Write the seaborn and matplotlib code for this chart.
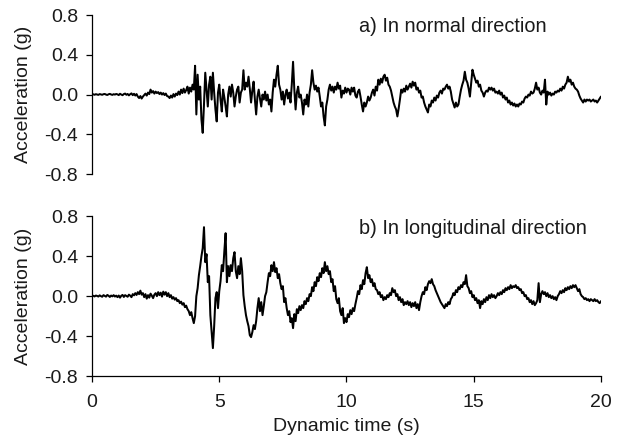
import numpy as np
import pandas as pd
import matplotlib
matplotlib.use("Agg")
import matplotlib.pyplot as plt
import seaborn as sns

DT = 0.05  # sampling step of the record (s)

# a) acceleration in normal direction (g), one value every 0.05 s from 0 to 20 s
normal = [
    0.000, 0.003, -0.002, 0.004, 0.000, -0.003, 0.005, 0.001, -0.002, 0.004, 0.006, 0.000, -0.004, 0.003, 0.007, 0.001, -0.003, 0.004, 0.000, 0.006,
    0.002, -0.005, 0.008, 0.000, -0.006, 0.005, 0.010, -0.002, 0.006, -0.008, 0.004, 0.012, -0.006, 0.008, -0.010, 0.005, -0.020, -0.035, -0.015, -0.040,
    -0.020, -0.005, 0.010, -0.010, 0.020, 0.005, 0.050, 0.020, 0.035, 0.010, 0.030, 0.015, 0.025, 0.005, 0.020, 0.000, 0.015, -0.005, 0.010, -0.015,
    -0.020, -0.035, -0.010, -0.030, 0.005, -0.020, 0.010, -0.005, 0.030, 0.000, 0.050, 0.015, 0.060, 0.020, 0.045, 0.080, 0.010, 0.070, 0.030, 0.100,
    0.05, 0.29, -0.20, 0.20, -0.05, 0.08, -0.25, -0.385, -0.10, 0.22, 0.05, -0.12, 0.10, 0.18, -0.05, 0.22, 0.02, -0.15, -0.27, 0.02,
    0.10, -0.05, -0.17, 0.05, -0.03, -0.12, -0.22, 0.00, 0.08, -0.02, 0.10, 0.02, -0.12, -0.02, 0.05, 0.08, -0.08, 0.02, 0.05, 0.245,
    0.05, 0.12, 0.08, 0.18, 0.06, -0.08, 0.04, 0.13, -0.05, -0.20, -0.02, 0.05, -0.04, -0.12, 0.00, -0.05, 0.03, -0.06, 0.00, -0.10,
    -0.05, -0.17, 0.02, 0.15, 0.08, 0.20, 0.29, 0.10, 0.05, -0.05, 0.03, -0.10, 0.00, 0.05, -0.04, 0.02, -0.08, 0.10, 0.33, 0.05,
    -0.15, 0.02, 0.08, -0.03, 0.00, -0.08, -0.20, -0.05, -0.10, 0.00, -0.12, 0.02, 0.10, 0.245, 0.12, 0.05, 0.09, 0.03, 0.07, -0.02,
    -0.12, -0.08, -0.22, -0.31, -0.12, -0.05, 0.05, 0.10, 0.04, 0.08, 0.02, 0.08, 0.05, 0.12, 0.06, 0.09, -0.03, 0.04, 0.01, 0.07,
    0.02, 0.06, 0.05, 0.00, 0.07, 0.03, 0.07, -0.01, -0.03, 0.03, 0.05, -0.02, -0.10, -0.17, -0.08, -0.12, -0.08, -0.02, -0.06, -0.03,
    0.02, 0.05, -0.01, 0.08, 0.04, 0.15, 0.10, 0.16, 0.12, 0.18, 0.20, 0.14, 0.17, 0.10, 0.08, 0.04, -0.02, -0.08, -0.12, -0.15,
    -0.22, -0.14, -0.05, 0.05, 0.02, 0.06, 0.03, 0.09, 0.05, 0.08, 0.11, 0.07, 0.13, 0.09, 0.12, 0.05, 0.07, 0.02, 0.04, -0.03,
    -0.02, -0.08, -0.12, -0.15, -0.18, -0.10, -0.12, -0.06, -0.08, -0.03, -0.06, -0.01, -0.03, 0.02, 0.04, 0.01, 0.06, 0.05, 0.08, 0.10,
    0.06, 0.08, 0.03, -0.05, -0.09, -0.13, -0.08, -0.12, -0.10, -0.02, 0.05, 0.10, 0.14, 0.23, 0.15, 0.12, 0.06, -0.02, 0.12, 0.25,
    0.20, 0.16, 0.12, 0.14, 0.08, 0.10, 0.04, 0.02, -0.02, 0.02, 0.04, 0.03, 0.07, 0.05, 0.07, 0.04, 0.06, 0.02, 0.03, 0.01,
    0.04, 0.00, 0.02, -0.03, -0.01, -0.05, -0.03, -0.08, -0.06, -0.10, -0.08, -0.11, -0.09, -0.12, -0.10, -0.12, -0.09, -0.10, -0.07, -0.08,
    -0.04, -0.02, -0.03, 0.00, -0.01, 0.03, 0.01, 0.02, 0.06, 0.12, 0.05, 0.07, 0.02, 0.00, 0.04, 0.02, 0.15, -0.10, 0.03, 0.00,
    0.02, -0.01, 0.01, 0.00, 0.03, 0.02, 0.04, 0.03, 0.06, 0.04, 0.08, 0.06, 0.10, 0.12, 0.18, 0.13, 0.15, 0.10, 0.12, 0.08,
    0.06, 0.05, 0.03, -0.01, -0.04, -0.06, -0.08, -0.05, -0.07, -0.05, -0.06, -0.05, -0.07, -0.06, -0.05, -0.07, -0.06, -0.08, -0.06, -0.04,
    -0.02,
]

# b) acceleration in longitudinal direction (g), one value every 0.05 s from 0 to 20 s
longitudinal = [
    0.000, 0.004, -0.003, 0.006, 0.002, -0.004, 0.008, 0.000, -0.006, 0.010, 0.003, -0.005, 0.012, 0.004, -0.008, 0.006, -0.002, 0.010, -0.004, 0.005,
    -0.010, 0.006, -0.015, 0.004, 0.012, -0.008, 0.010, 0.002, -0.006, 0.015, 0.005, -0.010, 0.020, 0.008, 0.030, 0.012, 0.040, 0.020, 0.055, 0.015,
    0.030, -0.010, 0.020, -0.025, 0.010, -0.015, 0.025, 0.005, -0.020, 0.015, 0.030, 0.000, 0.040, 0.010, 0.035, -0.005, 0.045, 0.015, 0.040, 0.000,
    0.030, -0.010, 0.010, -0.025, -0.010, -0.035, -0.020, -0.050, -0.040, -0.070, -0.055, -0.085, -0.070, -0.110, -0.095, -0.130, -0.150, -0.190, -0.160, -0.220,
    -0.270, -0.200, 0.000, 0.080, 0.210, 0.300, 0.400, 0.480, 0.690, 0.340, 0.420, 0.140, 0.200, -0.190, -0.350, -0.520, -0.300, -0.020, 0.040, -0.120,
    0.050, 0.150, 0.310, 0.250, 0.450, 0.630, 0.140, 0.300, 0.200, 0.310, 0.250, 0.380, 0.440, 0.250, 0.180, 0.300, 0.220, 0.380, 0.250, 0.010,
    -0.100, -0.190, -0.250, -0.300, -0.390, -0.410, -0.360, -0.290, -0.330, -0.250, -0.120, -0.020, -0.150, -0.060, -0.190, -0.100, 0.000, 0.040, 0.140, 0.230,
    0.200, 0.310, 0.250, 0.340, 0.240, 0.280, 0.180, 0.220, 0.130, 0.070, 0.100, -0.060, -0.020, -0.120, -0.190, -0.150, -0.260, -0.220, -0.320, -0.180,
    -0.250, -0.130, -0.170, -0.100, -0.140, -0.090, -0.120, -0.050, -0.080, -0.020, -0.050, 0.020, 0.000, 0.090, 0.050, 0.140, 0.100, 0.190, 0.150, 0.230,
    0.190, 0.280, 0.230, 0.340, 0.250, 0.300, 0.220, 0.250, 0.140, 0.170, 0.050, 0.100, -0.030, -0.070, -0.020, -0.150, -0.190, -0.120, -0.270, -0.220,
    -0.260, -0.180, -0.210, -0.140, -0.180, -0.120, -0.150, -0.080, -0.020, 0.050, 0.020, 0.110, 0.070, 0.160, 0.120, 0.230, 0.290, 0.180, 0.210, 0.140,
    0.170, 0.100, 0.130, 0.070, 0.060, 0.020, 0.040, -0.010, 0.010, -0.040, -0.010, -0.030, 0.010, -0.010, 0.030, 0.010, 0.080, 0.040, 0.060, 0.000,
    0.020, -0.040, -0.010, -0.060, -0.030, -0.090, -0.060, -0.080, -0.050, -0.090, -0.060, -0.110, -0.070, -0.100, -0.060, -0.120, -0.080, -0.140, -0.060, 0.000,
    0.040, 0.020, 0.090, 0.060, 0.120, 0.150, 0.130, 0.170, 0.120, 0.100, 0.060, 0.030, 0.000, -0.030, -0.060, -0.080, -0.100, -0.120, -0.080, -0.100,
    -0.060, -0.080, -0.030, -0.010, 0.030, 0.010, 0.060, 0.040, 0.090, 0.070, 0.110, 0.090, 0.140, 0.120, 0.210, 0.100, 0.080, 0.030, 0.050, -0.010,
    0.010, -0.040, -0.020, -0.070, -0.040, -0.120, -0.050, -0.080, -0.030, -0.060, -0.010, -0.040, 0.010, -0.020, 0.020, -0.010, 0.010, -0.020, 0.000, 0.030,
    0.010, 0.040, 0.020, 0.060, 0.040, 0.080, 0.060, 0.090, 0.070, 0.110, 0.080, 0.100, 0.090, 0.110, 0.080, 0.090, 0.060, 0.070, 0.030, 0.040,
    0.000, 0.010, -0.030, -0.020, -0.060, -0.040, -0.080, -0.050, -0.090, -0.070, -0.040, 0.130, -0.060, 0.020, 0.050, 0.020, 0.040, 0.000, 0.030, -0.010,
    0.010, -0.020, 0.000, -0.030, -0.010, -0.040, 0.000, 0.020, 0.050, 0.030, 0.060, 0.040, 0.080, 0.060, 0.090, 0.070, 0.100, 0.080, 0.110, 0.090,
    0.110, 0.080, 0.050, 0.070, 0.020, 0.000, -0.010, -0.030, -0.020, -0.040, -0.030, -0.050, -0.030, -0.040, -0.050, -0.030, -0.050, -0.040, -0.060, -0.070,
    -0.050,
]

panel_titles = ["a) In normal direction", "b) In longitudinal direction"]
y_ticks = [-0.8, -0.4, 0.0, 0.4, 0.8]
x_ticks = [0, 5, 10, 15, 20]
x_label = "Dynamic time (s)"
y_label = "Acceleration (g)"

sns.set_theme(style="white")
plt.rcParams["font.family"] = ["Liberation Sans", "DejaVu Sans"]
plt.rcParams["axes.unicode_minus"] = False

fig = plt.figure(figsize=(6.26, 4.43), dpi=100)
ax_top = fig.add_axes([0.147, 0.607, 0.813, 0.359])
ax_bot = fig.add_axes([0.147, 0.151, 0.813, 0.361])

series = [normal, longitudinal]
title_y = [0.685, 0.68]
for ax, vals, title, ty in zip([ax_top, ax_bot], series, panel_titles, title_y):
    df = pd.DataFrame({"time": np.arange(len(vals)) * DT, "acc": vals})
    sns.lineplot(data=df, x="time", y="acc", ax=ax, color="black",
                 linewidth=1.45, estimator=None, sort=False)
    ax.set_xlim(0, 20)
    ax.set_ylim(-0.8, 0.8)
    ax.set_yticks(y_ticks)
    ax.set_yticklabels([f"{v:.1f}" for v in y_ticks])
    ax.tick_params(axis="y", which="both", direction="out", length=4,
                   width=0.9, color="black", left=True, pad=6,
                   labelsize=14, labelcolor="#1a1a1a")
    for s in ["top", "right"]:
        ax.spines[s].set_visible(False)
    ax.spines["left"].set_color("black")
    ax.spines["left"].set_linewidth(0.9)
    ax.set_ylabel(y_label, fontsize=14, color="#1a1a1a")
    ax.yaxis.set_label_coords(-0.118, 0.5)
    ax.text(10.5, ty, title, fontsize=14.3, color="#1a1a1a",
            ha="left", va="center")
    ax.set_facecolor("white")

ax_top.spines["bottom"].set_visible(False)
ax_top.set_xticks([])
ax_top.set_xlabel("")

ax_bot.spines["bottom"].set_color("black")
ax_bot.spines["bottom"].set_linewidth(0.9)
ax_bot.set_xticks(x_ticks)
ax_bot.set_xticklabels([str(v) for v in x_ticks])
ax_bot.tick_params(axis="x", direction="out", length=4, width=0.9,
                   color="black", bottom=True, pad=9, labelsize=14,
                   labelcolor="#1a1a1a")
ax_bot.set_xlabel(x_label, fontsize=14, color="#1a1a1a", labelpad=5)

fig.savefig("out.png", dpi=100, facecolor="white")
